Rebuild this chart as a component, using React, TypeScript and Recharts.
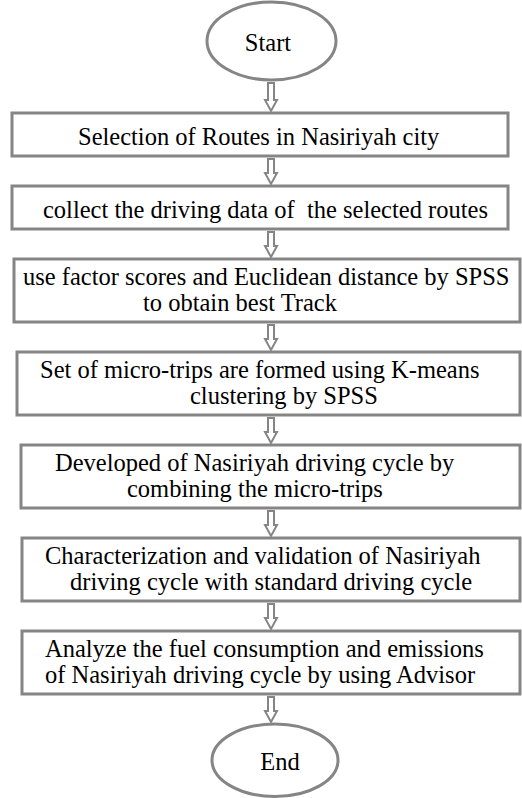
import React from "react";
import { ScatterChart, Scatter, XAxis, YAxis, ReferenceArea } from "recharts";

// Flowchart steps (top to bottom)
const stepKinds = ["terminal", "process", "process", "process", "process", "process", "process", "process", "terminal"];
const stepLines: string[][] = [
  ["Start"],
  ["Selection of Routes in Nasiriyah city"],
  ["collect the driving data of  the selected routes"],
  ["use factor scores and Euclidean distance by SPSS", "to obtain best Track"],
  ["Set of micro-trips are formed using K-means", "clustering by SPSS"],
  ["Developed of Nasiriyah driving cycle by", "combining the micro-trips"],
  ["Characterization and validation of Nasiriyah", "driving cycle with standard driving cycle"],
  ["Analyze the fuel consumption and emissions", "of Nasiriyah driving cycle by using Advisor"],
  ["End"],
];

// layout (diagram units = px)
const W = 522;
const H = 798;
const GAP = 30;
const GAP_AFTER_START = 33;
const ELLIPSE_H = 78;
const LINE_H = 20;
const PAD_H = 23;
const boxEdges = [[207, 336], [12, 508], [12, 508], [14, 520], [17, 520], [21, 520], [22, 520], [22, 520], [212, 338]];
const textX = [[268], [78], [43], [23, 143], [40, 190], [55, 127], [45, 70], [45, 45], [280]];
const ARROW_X = 271;
const GRAY = "#858585";
const FONT = "Liberation Serif, Times New Roman, serif";

let cursor = 2;
const nodes = stepLines.map((lines, i) => {
  const top = cursor;
  let h = stepKinds[i] === "terminal" ? ELLIPSE_H : PAD_H + LINE_H * lines.length;
  h = Math.min(h, H - 1.5 - top);
  cursor += h + (i === 0 ? GAP_AFTER_START : GAP);
  const [x1, x2] = boxEdges[i];
  return { i, lines, kind: stepKinds[i], x1, x2, y1: top, y2: top + h, x: (x1 + x2) / 2, y: top + h / 2 };
});

const arrows = nodes.slice(1).map((n, k) => ({ y1: nodes[k].y2 + 3, y2: n.y1 - 2 }));

const EllipseShape = (p: any) => (
  <ellipse cx={p.x + p.width / 2} cy={p.y + p.height / 2} rx={p.width / 2} ry={p.height / 2}
    fill="#fff" stroke={GRAY} strokeWidth={3} />
);

const ArrowShape = (p: any) => {
  const cx = p.x + p.width / 2;
  const t = p.y;
  const b = p.y + p.height;
  const s = 3, hw = 6, hh = 11;
  const d = `M${cx - s},${t} L${cx + s},${t} L${cx + s},${b - hh} L${cx + hw},${b - hh} L${cx},${b} L${cx - hw},${b - hh} L${cx - s},${b - hh} Z`;
  return <path d={d} fill="#fff" stroke={GRAY} strokeWidth={2} strokeLinejoin="miter" />;
};

const StepText = (p: any) => {
  const { cx, cy, payload } = p;
  const n = payload.lines.length;
  const terminal = payload.kind === "terminal";
  return (
    <text fill="#000" style={{ whiteSpace: "pre", fontFamily: FONT, fontSize: 24.5 }}
      textAnchor={terminal ? "middle" : "start"}>
      {payload.lines.map((ln: string, j: number) => (
        <tspan key={j} x={cx + (textX[payload.i][j] - payload.x)}
          y={cy + (n === 1 ? 10 : 7) + (j - (n - 1) / 2) * 26}>{ln}</tspan>
      ))}
    </text>
  );
};

export default function App() {
  return (
    <div style={{ width: W, height: H, background: "#fff", fontFamily: FONT }}>
      <style>{`body{margin:0;}`}</style>
      <ScatterChart width={W} height={H} margin={{ top: 0, right: 0, bottom: 0, left: 0 }}>
        <XAxis type="number" dataKey="x" domain={[0, W]} hide />
        <YAxis type="number" dataKey="y" domain={[0, H]} reversed hide />
        {arrows.map((a, k) => (
          <ReferenceArea key={`a${k}`} x1={ARROW_X - 7} x2={ARROW_X + 7} y1={a.y1} y2={a.y2}
            ifOverflow="visible" shape={ArrowShape} />
        ))}
        {nodes.map((n) => (
          n.kind === "terminal" ? (
            <ReferenceArea key={`n${n.i}`} x1={n.x1} x2={n.x2} y1={n.y1} y2={n.y2}
              ifOverflow="visible" shape={EllipseShape} />
          ) : (
            <ReferenceArea key={`n${n.i}`} x1={n.x1} x2={n.x2} y1={n.y1} y2={n.y2}
              ifOverflow="visible" fill="#fff" fillOpacity={1} stroke={GRAY} strokeWidth={3} />
          )
        ))}
        <Scatter data={nodes} isAnimationActive={false} shape={StepText} />
      </ScatterChart>
    </div>
  );
}
